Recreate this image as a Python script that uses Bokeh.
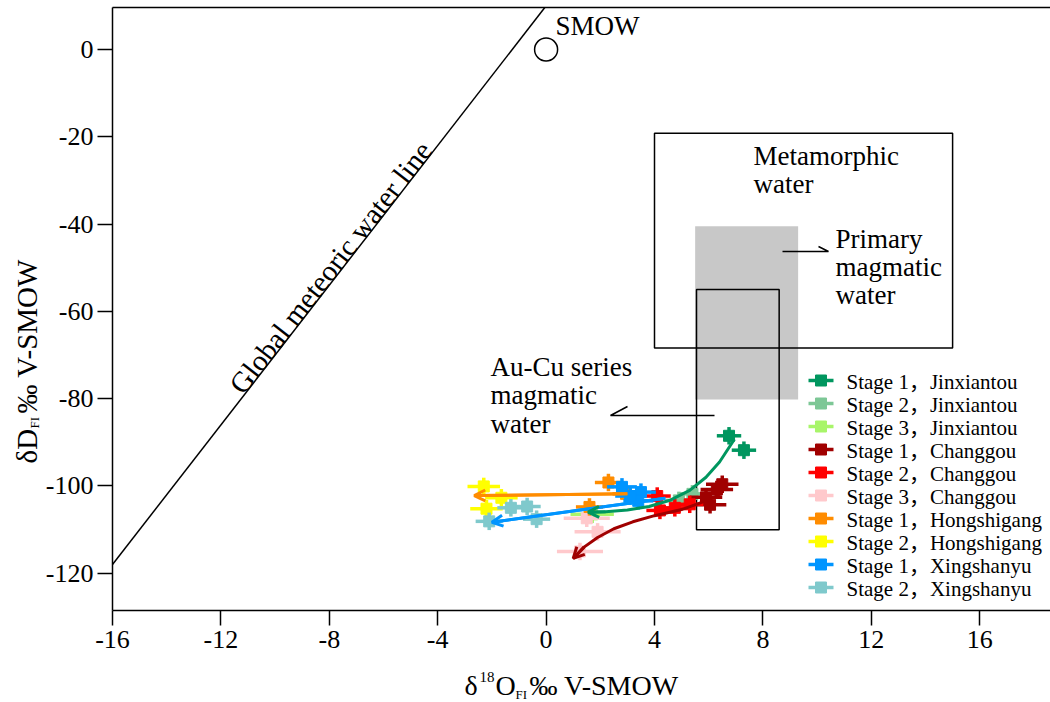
import math
from bokeh.plotting import figure
from bokeh.models import (Range1d, FixedTicker, Label, LinearAxis, Arrow, OpenHead)
from bokeh.embed import file_html
from bokeh.resources import INLINE

# ---------------- data ----------------
x_ticks = [-16, -12, -8, -4, 0, 4, 8, 12, 16]
y_ticks = [0, -20, -40, -60, -80, -100, -120]

series_names = ["Stage 1，Jinxiantou", "Stage 2，Jinxiantou", "Stage 3，Jinxiantou",
                "Stage 1，Changgou", "Stage 2，Changgou", "Stage 3，Changgou",
                "Stage 1，Hongshigang", "Stage 2，Hongshigang",
                "Stage 1，Xingshanyu", "Stage 2，Xingshanyu"]
series_colors = ["#00965F", "#7DC796", "#A8F56A", "#A00000", "#FF0000", "#FFC9CC",
                 "#FF8C00", "#FFFF00", "#0095FF", "#7FC9CC"]

jx1_x = [6.75, 7.3]
jx1_y = [-88.5, -91.8]
jx2_x = [5.4, 4.9]
jx2_y = [-101.8, -103.3]
jx3_x = [1.7]
jx3_y = [-106.5]
cg1_x = [6.5, 6.3, 5.9, 6.05]
cg1_y = [-99.6, -100.8, -102.6, -104.3]
cg2_x = [4.1, 4.75, 4.2, 5.3]
cg2_y = [-102.3, -105.0, -105.6, -104.2]
cg3_x = [1.5, 1.9, 1.25]
cg3_y = [-107.4, -110.5, -115.0]
hs1_x = [2.3, 2.95, 1.6]
hs1_y = [-99.2, -101.8, -104.8]
hs2_x = [-2.3, -1.65, -2.2]
hs2_y = [-100.1, -102.7, -105.2]
xs1_x = [2.8, 3.5, 3.4, 3.1]
xs1_y = [-100.2, -101.4, -103.4, -102.3]
xs2_x = [-2.1, -1.3, -0.7, -0.35]
xs2_y = [-108.1, -105.0, -104.7, -107.6]

x_err = [0.45, 0.5, 0.8, 0.6, 0.5, 0.85, 0.5, 0.6, 0.55, 0.5]
y_err = [2.0, 2.0, 2.0, 2.0, 2.0, 2.0, 2.0, 2.0, 2.0, 2.0]

# evolution trends (arrows)
trend_jx_x = [6.95, 6.4, 5.9, 5.3, 4.6, 3.8, 3.0, 2.2, 1.55]
trend_jx_y = [-89.3, -94.5, -98.0, -101.0, -103.2, -104.7, -105.5, -105.9, -106.0]
trend_cg_x = [6.5, 6.0, 5.0, 4.0, 3.2, 2.5, 1.9, 1.4, 1.0]
trend_cg_y = [-101.6, -103.2, -105.4, -106.8, -108.2, -109.8, -111.8, -114.0, -116.6]
trend_hs_x = [3.0, -2.65]
trend_hs_y = [-101.8, -102.2]
trend_xs_x = [4.4, -2.0]
trend_xs_y = [-102.8, -108.3]

# global meteoric water line: dD = 8 d18O + 10
gmwl_slope = 8
gmwl_icpt = 10

smow_x = [0]
smow_y = [0]

# reference fields (left, right, top, bottom)
metamorphic_box = (4.0, 15.0, -19.2, -68.4)
primary_box = (5.5, 9.3, -40.5, -80.2)
aucu_box = (5.55, 8.6, -55.0, -110.0)

series_x = [jx1_x, jx2_x, jx3_x, cg1_x, cg2_x, cg3_x, hs1_x, hs2_x, xs1_x, xs2_x]
series_y = [jx1_y, jx2_y, jx3_y, cg1_y, cg2_y, cg3_y, hs1_y, hs2_y, xs1_y, xs2_y]

# ---------------- figure ----------------
AX0, AX1 = -16.0, 18.63        # axis extent (x)
AY0, AY1 = -128.5, 9.62        # axis extent (y)
W, H = 1050, 702
PPX, PPY = 27.1, 4.365         # pixels per unit
X0 = AX0 - 112 / PPX
Y1 = AY1 + 7 / PPY
Y0 = Y1 - H / PPY
X1 = X0 + W / PPX

p = figure(width=W, height=H, x_range=Range1d(X0, X1), y_range=Range1d(Y0, Y1),
           output_backend="svg", toolbar_location=None,
           x_axis_location=None, y_axis_location=None,
           min_border_left=0, min_border_right=0, min_border_top=0, min_border_bottom=0)
p.outline_line_color = None
p.xgrid.grid_line_color = None
p.ygrid.grid_line_color = None
p.background_fill_color = "white"
p.border_fill_color = "white"

SERIF = "Liberation Serif"
LEG_FONT = "'Liberation Serif', 'Noto Sans CJK SC'"
xaxis = LinearAxis(fixed_location=AY0, bounds=(AX0, AX1))
yaxis = LinearAxis(fixed_location=AX0, bounds=(AY0, AY1))
p.add_layout(xaxis, "below")
p.add_layout(yaxis, "left")
for ax, ticks in ((xaxis, x_ticks), (yaxis, y_ticks)):
    ax.ticker = FixedTicker(ticks=ticks)
    ax.major_label_overrides = {t: str(t) for t in ticks}
    ax.axis_line_width = 1.5
    ax.axis_line_color = "black"
    ax.major_tick_line_width = 1.5
    ax.major_tick_line_color = "black"
    ax.major_tick_out = 15
    ax.major_tick_in = 0
    ax.minor_tick_line_color = None
    ax.major_label_text_font = SERIF
    ax.major_label_text_font_size = "26px"
    ax.major_label_text_color = "black"
xaxis.major_label_standoff = 6
yaxis.major_label_standoff = 4

# top frame line
p.line([AX0, AX1], [AY1, AY1], line_color="black", line_width=1.5)

# fields
l, r, t, b = primary_box
p.quad(left=[l], right=[r], top=[t], bottom=[b], fill_color="#C8C8C8", line_color=None)
for box in (metamorphic_box, aucu_box):
    l, r, t, b = box
    p.quad(left=[l], right=[r], top=[t], bottom=[b], fill_color=None,
           line_color="black", line_width=1.5)

# GMWL, from the left axis to the top of the frame
gmwl_x = [AX0, (AY1 - gmwl_icpt) / gmwl_slope]
p.line(gmwl_x, [gmwl_slope * v + gmwl_icpt for v in gmwl_x], line_color="black", line_width=1.5)
p.scatter(smow_x, smow_y, marker="circle", size=23, fill_color=None, line_color="black", line_width=1.5)


def px2x(px):
    return X0 + px / PPX


def py2y(py):
    return Y1 - py / PPY


def lab(x, y, text, size="27px", align="left", baseline="middle", angle=0.0, font=SERIF):
    p.add_layout(Label(x=x, y=y, text=text, text_font=font, text_font_size=size,
                       text_align=align, text_baseline=baseline, angle=angle,
                       text_color="black"))


# data points with error bars
for i in range(len(series_names)):
    xs, ys, c = series_x[i], series_y[i], series_colors[i]
    ex, ey = x_err[i], y_err[i]
    x0 = [v - ex for v in xs] + xs
    x1 = [v + ex for v in xs] + xs
    y0 = ys + [v - ey for v in ys]
    y1 = ys + [v + ey for v in ys]
    p.segment(x0=x0, y0=y0, x1=x1, y1=y1, line_color=c, line_width=3.5)
    p.scatter(xs, ys, marker="square", size=11, fill_color=c, line_color=c)

# trends
for tx, ty, c in ((trend_hs_x, trend_hs_y, "#FF8C00"), (trend_xs_x, trend_xs_y, "#0095FF"),
                  (trend_jx_x, trend_jx_y, "#00965F"), (trend_cg_x, trend_cg_y, "#A00000")):
    p.line(tx, ty, line_color=c, line_width=3, line_join="round")
    p.add_layout(Arrow(end=OpenHead(size=11, line_width=3, line_color=c),
                       x_start=tx[-2], y_start=ty[-2], x_end=tx[-1], y_end=ty[-1],
                       line_color=c, line_width=3))

# legend (drawn as swatches + labels)
for i, (name, c) in enumerate(zip(series_names, series_colors)):
    row = 380 + 23 * i
    p.segment(x0=[px2x(808)], y0=[py2y(row)], x1=[px2x(833)], y1=[py2y(row)],
              line_color=c, line_width=3.5)
    p.scatter([px2x(820.5)], [py2y(row)], marker="square", size=11, fill_color=c, line_color=c)
    lab(px2x(846), py2y(row + 1), name, size="21px", font=LEG_FONT)

# annotations
lab(px2x(555), py2y(25), "SMOW")
lab(px2x(330), py2y(267), "Global meteoric water line", size="29px", align="center",
    angle=math.atan(gmwl_slope * PPY / PPX))
lab(px2x(753), py2y(155), "Metamorphic")
lab(px2x(753), py2y(183), "water")
lab(px2x(835), py2y(238), "Primary")
lab(px2x(835), py2y(266), "magmatic")
lab(px2x(835), py2y(294), "water")
lab(px2x(490), py2y(366), "Au-Cu series")
lab(px2x(490), py2y(394), "magmatic")
lab(px2x(490), py2y(423), "water")

# pointers
p.line([px2x(782), px2x(828), px2x(818)], [py2y(251), py2y(251), py2y(246)],
       line_color="black", line_width=1.5)
p.line([px2x(627), px2x(610), px2x(714)], [py2y(406), py2y(415), py2y(415)],
       line_color="black", line_width=1.5)

# axis titles
lab(px2x(464), py2y(685), "δ", size="28px")
lab(px2x(479), py2y(676), "18", size="15px")
lab(px2x(495), py2y(685), "O", size="28px")
lab(px2x(515), py2y(694), "FI", size="13px")
lab(px2x(529), py2y(685), "‰ V-SMOW", size="28px")

ang = math.pi / 2
lab(px2x(26), py2y(463), "δD", size="29px", angle=ang)
lab(px2x(34), py2y(428), "FI", size="13px", angle=ang)
lab(px2x(26), py2y(413), "‰ V-SMOW", size="29px", angle=ang)

open("out.html", "w").write(file_html(p, INLINE))
